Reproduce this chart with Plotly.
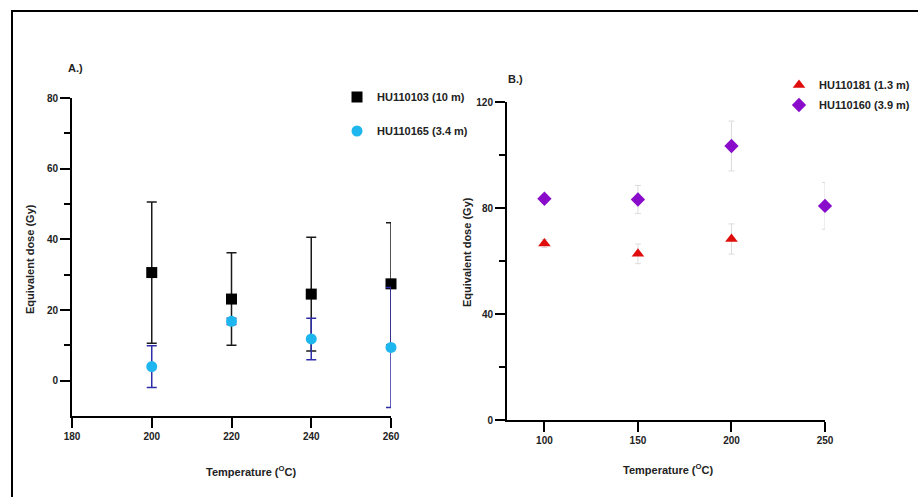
import plotly.graph_objects as go

W, H = 918, 497

# ---- Data panel A ----
temp_a = [200, 220, 240, 260]
hu103 = [30.6, 23.1, 24.5, 27.4]
hu103_err = [20.0, 13.1, 16.1, 17.3]
hu165 = [4.0, 16.8, 11.8, 9.4]
hu165_err = [5.9, 0.9, 5.9, 17.0]

# ---- Data panel B ----
temp_b = [100, 150, 200, 250]
hu181 = [66.6, 62.7, 68.3, None]
hu181_err = [1.5, 3.7, 5.7, None]
hu160 = [83.5, 83.2, 103.4, 80.8]
hu160_err = [1.5, 5.3, 9.4, 8.8]

FONT = "Liberation Sans, Arial, sans-serif"

def px(x):
    return x / W

def py(y):
    return 1 - y / H

fig = go.Figure()

fig.add_trace(go.Scatter(
    x=temp_a, y=hu103, mode="markers", name="HU110103 (10 m)", cliponaxis=False,
    marker=dict(symbol="square", size=11, color="black"),
    error_y=dict(type="data", array=hu103_err, color="#1a1a1a", thickness=1.5, width=5),
    xaxis="x", yaxis="y", legend="legend"))

fig.add_trace(go.Scatter(
    x=temp_a, y=hu165, mode="markers", name="HU110165 (3.4 m)", cliponaxis=False,
    marker=dict(symbol="circle", size=11, color="#1eb6ee"),
    error_y=dict(type="data", array=hu165_err, color="#2e2ea8", thickness=1.5, width=5),
    xaxis="x", yaxis="y", legend="legend2"))

fig.add_trace(go.Scatter(
    x=temp_b, y=hu181, mode="markers", name="HU110181 (1.3 m)", cliponaxis=False,
    marker=dict(symbol="triangle-up", size=11, color="#e00d0d"),
    error_y=dict(type="data", array=hu181_err, color="#dcdcdc", thickness=1, width=3),
    xaxis="x2", yaxis="y2", legend="legend3"))

fig.add_trace(go.Scatter(
    x=temp_b, y=hu160, mode="markers", name="HU110160 (3.9 m)", cliponaxis=False,
    marker=dict(symbol="diamond", size=11, color="#8a0ccb"),
    error_y=dict(type="data", array=hu160_err, color="#dcdcdc", thickness=1, width=3),
    xaxis="x2", yaxis="y2", legend="legend4"))

tickfont = dict(family=FONT, size=10, color="#222", weight="bold")
axis_common = dict(showline=True, linecolor="black", linewidth=2, ticks="outside",
                   ticklen=10, tickwidth=2, tickcolor="black", showgrid=False,
                   zeroline=False, tickfont=tickfont, mirror=False, automargin=False)

fig.update_layout(
    width=W, height=H,
    margin=dict(l=0, r=0, t=0, b=0, autoexpand=False),
    paper_bgcolor="white", plot_bgcolor="white",
    font=dict(family=FONT, color="#222"),
    xaxis=dict(domain=[px(72), px(391)], range=[180, 260], tickvals=[180, 200, 220, 240, 260],
               anchor="y", **axis_common),
    yaxis=dict(domain=[py(416), py(98)], range=[-10, 80], tickvals=[0, 20, 40, 60, 80],
               anchor="x",
               minor=dict(tickvals=[10, 30, 50, 70], ticklen=6, tickwidth=2, tickcolor="black", ticks="outside"),
               **axis_common),
    xaxis2=dict(domain=[px(507), px(825)], range=[80, 250], tickvals=[100, 150, 200, 250],
                anchor="y2", **axis_common),
    yaxis2=dict(domain=[py(420), py(102)], range=[0, 120], tickvals=[0, 40, 80, 120],
                anchor="x2",
                minor=dict(tickvals=[20, 60, 100], ticklen=6, tickwidth=2, tickcolor="black", ticks="outside"),
                **axis_common),
    showlegend=True,
)

legfont = dict(family=FONT, size=11, color="#222", weight="bold")
for name, (lx, ly) in {"legend": (337, 97), "legend2": (337, 131),
                       "legend3": (779, 85), "legend4": (779, 105)}.items():
    fig.layout[name] = dict(x=px(lx), y=py(ly), xanchor="left", yanchor="middle",
                            font=legfont, bgcolor="rgba(0,0,0,0)", borderwidth=0)

ann_font = dict(family=FONT, size=11, color="#222", weight="bold")
annotations = [
    dict(text="A.)", x=px(75), y=py(68)),
    dict(text="B.)", x=px(515), y=py(79)),
    dict(text="Temperature (<sup>O</sup>C)", x=px(251), y=py(471)),
    dict(text="Temperature (<sup>O</sup>C)", x=px(668), y=py(469)),
    dict(text="Equivalent dose (Gy)", x=px(30), y=py(259), textangle=-90),
    dict(text="Equivalent dose (Gy)", x=px(467), y=py(252), textangle=-90),
]
for a in annotations:
    a.update(xref="paper", yref="paper", showarrow=False, font=ann_font,
             xanchor="center", yanchor="middle")
fig.update_layout(annotations=annotations)

# frame lines
fig.add_shape(type="line", xref="paper", yref="paper", x0=px(11), x1=1, y0=py(11), y1=py(11),
              line=dict(color="black", width=2))
fig.add_shape(type="line", xref="paper", yref="paper", x0=px(12), x1=px(12), y0=py(11), y1=0,
              line=dict(color="black", width=2))

fig.write_html("out.html", config={"displayModeBar": False},
               post_script="document.body.style.margin='0';document.body.style.overflow='hidden';")
